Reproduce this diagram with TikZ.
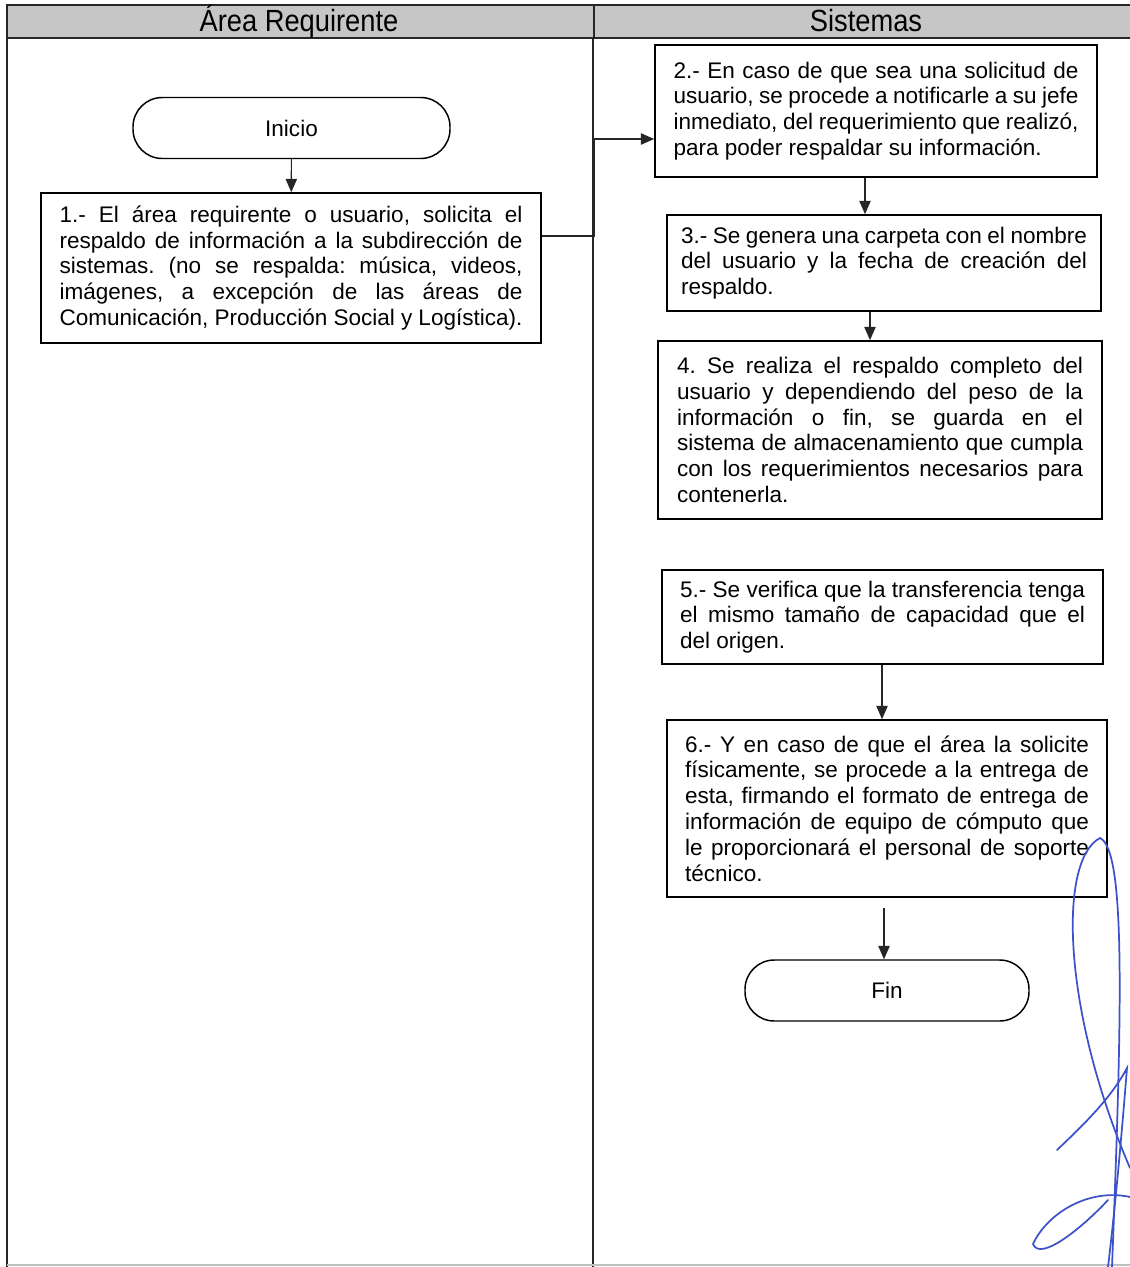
\documentclass[tikz,border=0pt]{standalone}
\usepackage{fontspec}
\setmainfont{Liberation Sans}
\usetikzlibrary{arrows.meta,positioning,calc}
\hyphenpenalty=10000
\exhyphenpenalty=10000
\tolerance=9999
\frenchspacing
\definecolor{hdGray}{HTML}{C6C6C6}
\definecolor{sigBlue}{HTML}{3D52C8}
\newcommand{\bodyfont}{\fontsize{16.9}{19.35}\selectfont}

\begin{document}
\begin{tikzpicture}[x=0.75pt, y=-0.75pt,
  frame/.style={draw=black!85, line width=1.2pt},
  head/.style={font=\fontsize{23}{26}\selectfont, inner sep=0pt},
  term/.style={draw, line width=1.1pt, rounded corners=22pt, font=\bodyfont},
  proc/.style={draw, line width=1.2pt, align=justify, inner sep=0pt, font=\bodyfont},
  flow/.style={draw=black!85, line width=0.9pt, -{Triangle[length=10pt, width=8.5pt]}},
  sig/.style={draw=sigBlue, line width=1.3pt, line cap=round},
]
\useasboundingbox (0,0) rectangle (1130,1267);

% swimlane frame
\fill[hdGray] (7,5) rectangle (1130,38);
\draw[frame] (1130,5) -- (7,5) -- (7,1267);
\draw[frame] (7,38) -- (1130,38);
\draw[frame, line width=0.8pt] (594,5) -- (594,38);
\draw[frame, line width=1.6pt] (593,38) -- (593,1267);
\draw[black!25, line width=0.8pt] (7,1265) -- (1130,1265);

\node[head] (hA) at (299,21) {\scalebox{0.89}[1]{Área Requirente}};
\node[head] (hS) at (866,21) {\scalebox{0.89}[1]{Sistemas}};

% area requirente
\node[term, minimum width=237.75pt, minimum height=45.75pt] (ini) at (291.5,128) {Inicio};
\node[proc, minimum width=375pt, minimum height=112.5pt, text width=347.25pt] (b1) at (291,268)
  {1.- El área requirente o usuario, solicita el\linebreak
   respaldo de información a la subdirección de\linebreak
   sistemas. (no se respalda: música, videos,\linebreak
   imágenes, a excepción de las áreas de\linebreak
   Comunicación, Producción Social y Logística).};

% sistemas
\node[proc, minimum width=331.5pt, minimum height=99pt, text width=303.75pt] (b2) at (876,111)
  {2.- En caso de que sea una solicitud de\linebreak
   usuario, se procede a notificarle a su jefe\linebreak
   inmediato, del requerimiento que realizó,\linebreak
   para poder respaldar su información.};
\node[proc, minimum width=325.5pt, minimum height=72pt, text width=304.5pt] (b3) at (884,263)
  {3.- Se genera una carpeta con el nombre\linebreak
   del usuario y la fecha de creación del\linebreak
   respaldo.};
\node[proc, minimum width=333pt, minimum height=133.5pt, text width=304.5pt] (b4) at (880,430)
  {4. Se realiza el respaldo completo del\linebreak
   usuario y dependiendo del peso de la\linebreak
   información o fin, se guarda en el\linebreak
   sistema de almacenamiento que cumpla\linebreak
   con los requerimientos necesarios para\linebreak
   contenerla.};
\node[proc, minimum width=330.75pt, minimum height=70.5pt, text width=303.75pt] (b5) at (882.5,617)
  {5.- Se verifica que la transferencia tenga\linebreak
   el mismo tamaño de capacidad que el\linebreak
   del origen.};
\node[proc, minimum width=330pt, minimum height=132.75pt, text width=303pt] (b6) at (887,808.5)
  {6.- Y en caso de que el área la solicite\linebreak
   físicamente, se procede a la entrega de\linebreak
   esta, firmando el formato de entrega de\linebreak
   información de equipo de cómputo que\linebreak
   le proporcionará el personal de soporte\linebreak
   técnico.};
\node[term, minimum width=213pt, minimum height=45.75pt] (fin) at (887,990.5) {Fin};

% connectors
\coordinate (jn) at (594,236);
\coordinate (jt) at (594,139);
\coordinate (x23) at (865,0);
\coordinate (x34) at (870,0);
\coordinate (x56) at (882,0);
\coordinate (f6) at (884,908);

\draw[flow] (ini) -- (b1);
\draw[flow] (b1.east |- jn) -- (jn) -- (jt) -- (b2.west |- jt);
\draw[flow] (b2.south -| x23) -- (b3.north -| x23);
\draw[flow] (b3.south -| x34) -- (b4.north -| x34);
\draw[flow] (b5.south -| x56) -- (b6.north -| x56);
\draw[flow] (f6) -- (fin.north -| f6);

% signature
\draw[sig] (1100,838) .. controls (1058,860) and (1062,1010) .. (1130,1168);
\draw[sig] (1100,838) .. controls (1126,850) and (1122,1010) .. (1112,1267);
\draw[sig] (1057,1150) .. controls (1080,1128) and (1110,1100) .. (1127,1068)
  .. controls (1122,1130) and (1116,1200) .. (1108,1267);
\draw[sig] (1130,1197) .. controls (1090,1188) and (1048,1212) .. (1033,1244)
  .. controls (1040,1262) and (1082,1228) .. (1108,1200);

\end{tikzpicture}
\end{document}
